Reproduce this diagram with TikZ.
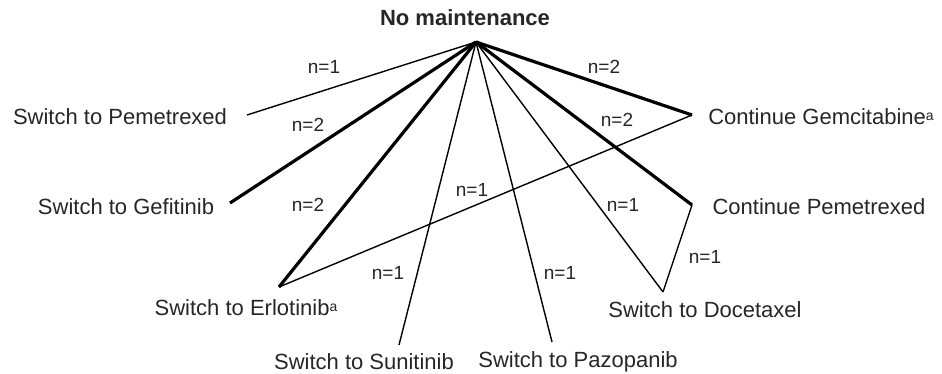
\documentclass[tikz,border=0pt]{standalone}
\usepackage{fontspec}
\setmainfont{Liberation Sans}
\usetikzlibrary{positioning}
\newcommand{\supa}{{\fontsize{7}{8}\selectfont\raisebox{0.55ex}{a}}}
\begin{document}
\begin{tikzpicture}[x=0.5pt, y=-0.5pt,
  drug/.style={font=\fontsize{11}{13}\selectfont, text=black!85, inner sep=0},
  count/.style={font=\fontsize{9.5}{11}\selectfont, text=black!85, inner sep=0},
  few/.style={line width=0.7pt, line join=round},
  many/.style={line width=1.6pt, line join=round}]
\useasboundingbox (0,0) rectangle (942,374);
% hub and end points of the switches
\node[drug, font=\fontsize{11}{13}\selectfont\bfseries] (none) at (465,18) {No maintenance};
\coordinate (hub) at (476,42);
\coordinate (spem) at (247,115);
\coordinate (gef) at (230,203);
\coordinate (erl) at (279,287);
\coordinate (sun) at (399,345);
\coordinate (paz) at (552,342);
\coordinate (doc) at (663,292);
\coordinate (cpem) at (692,205);
\coordinate (gem) at (692,115);
% treatment labels
\node[drug] (spemtxt) at (120,117) {Switch to Pemetrexed};
\node[drug] (geftxt) at (126,207) {Switch to Gefitinib};
\node[drug] (erltxt) at (246,308) {Switch to Erlotinib\supa};
\node[drug] (suntxt) at (364,362) {Switch to Sunitinib};
\node[drug] (paztxt) at (578,362) {Switch to Pazopanib};
\node[drug] (doctxt) at (705,310) {Switch to Docetaxel};
\node[drug] (cpemtxt) at (819,207) {Continue Pemetrexed};
\node[drug] (gemtxt) at (821,117) {Continue Gemcitabine\supa};
% transitions
\draw[few] (hub) -- (spem);
\draw[many] (hub) -- (gef);
\draw[many] (hub) -- (erl);
\draw[few] (hub) -- (sun);
\draw[few] (hub) -- (paz);
\draw[few] (hub) -- (doc);
\draw[many] (hub) -- (cpem);
\draw[many] (hub) -- (gem);
\draw[few] (gem) -- (erl);
\draw[few] (cpem) -- (doc);
% patient counts
\node[count] at (324,67) {n=1};
\node[count] at (308,125) {n=2};
\node[count] at (308,205) {n=2};
\node[count] at (472,190) {n=1};
\node[count] at (388,273) {n=1};
\node[count] at (560,273) {n=1};
\node[count] at (623,205) {n=1};
\node[count] at (705,257) {n=1};
\node[count] at (617,120) {n=2};
\node[count] at (604,67) {n=2};
\end{tikzpicture}
\end{document}
